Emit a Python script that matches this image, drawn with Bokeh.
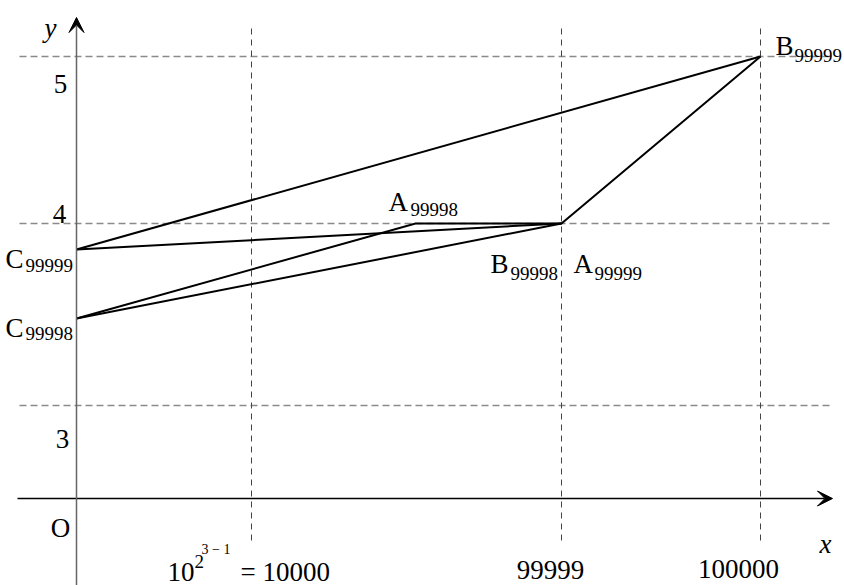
from bokeh.plotting import figure
from bokeh.models import Range1d, Arrow, VeeHead, ColumnDataSource
from bokeh.core.properties import value
from bokeh.embed import file_html
from bokeh.resources import INLINE

# ---- schematic diagram positions (diagram units, not to scale) ----
x_tick_pos = [1.75, 4.85, 6.84]          # 10^(2^(3-1)) = 10000, 99999, 100000
x_tick_labels = ["= 10000", "99999", "100000"]
y_tick_pos = [0.93, 2.75, 4.42]          # 3, 4, 5
y_tick_labels = ["3", "4", "5"]

# vertices of the construction
A99998 = (3.39, 2.75)
A99999 = (4.85, 2.75)
B99998 = (4.85, 2.75)
B99999 = (6.84, 4.42)
C99998 = (0.0, 1.80)
C99999 = (0.0, 2.49)

x_axis_span = (-0.59, 7.56)
y_axis_span = (-0.87, 4.81)
h_grid_span = (-0.57, 7.56)
v_grid_span = (-0.42, 4.73)

FONT = "Liberation Serif"
BIG = "27px"
SUB = "19px"

p = figure(width=844, height=585, x_range=Range1d(-0.76, 7.68), y_range=Range1d(-0.87, 4.98),
           output_backend="svg", toolbar_location=None, min_border=0,
           x_axis_type=None, y_axis_type=None)
p.outline_line_color = None
p.background_fill_color = "white"
p.grid.visible = False

# dashed guide lines
p.multi_line(xs=[[h_grid_span[0], h_grid_span[1]] for _ in y_tick_pos],
             ys=[[y, y] for y in y_tick_pos],
             line_color="#8a8a8a", line_width=1.5, line_dash="7 4")
p.multi_line(xs=[[x, x] for x in x_tick_pos],
             ys=[[v_grid_span[0], v_grid_span[1]] for _ in x_tick_pos],
             line_color="#444444", line_width=1, line_dash="6 5")

# axes
p.add_layout(Arrow(end=VeeHead(size=15, fill_color="black", line_color="black", line_width=1),
                   x_start=x_axis_span[0], y_start=0, x_end=x_axis_span[1], y_end=0,
                   line_color="black", line_width=1.5))
p.add_layout(Arrow(end=VeeHead(size=15, fill_color="black", line_color="black", line_width=1),
                   x_start=0, y_start=y_axis_span[0], x_end=0, y_end=y_axis_span[1],
                   line_color="#666666", line_width=1.5))

# construction segments
paths = [
    [C99999, B99999],
    [C99999, A99999],
    [C99998, A99998, A99999, B99999],
    [C99998, B99998],
]
p.multi_line(xs=[[pt[0] for pt in path] for path in paths],
             ys=[[pt[1] for pt in path] for path in paths],
             line_color="black", line_width=2, line_join="miter")

# ---- labels ----
rows = []  # (x, y, text, dx, dy, size, style, align)
ydx = {"3": -14, "4": -17, "5": -16}
ydy = {"3": 33, "4": -10, "5": 27}
for yv, lab in zip(y_tick_pos, y_tick_labels):
    rows.append((0, yv, lab, ydx[lab], ydy[lab], BIG, "normal", "center"))
rows.append((0, 0, "O", -16, 29, BIG, "normal", "center"))
rows.append((0, y_axis_span[1], "y", -26, 10, BIG, "italic", "center"))
rows.append((x_axis_span[1], 0, "x", -7, 45, BIG, "italic", "center"))

# x tick labels
rows.append((x_tick_pos[0], 0, "10", -84, 73, BIG, "normal", "left"))
rows.append((x_tick_pos[0], 0, "2", -57, 63, SUB, "normal", "left"))
rows.append((x_tick_pos[0], 0, "3 − 1", -50, 51, "14px", "normal", "left"))
rows.append((x_tick_pos[0], 0, x_tick_labels[0], -11, 73, BIG, "normal", "left"))
rows.append((x_tick_pos[1], 0, x_tick_labels[1], -11, 71, BIG, "normal", "center"))
rows.append((x_tick_pos[2], 0, x_tick_labels[2], -22, 70, BIG, "normal", "center"))

# point labels: (point, letter, sub, dx_main, dy_main, dx_sub, dy_sub)
point_labels = [
    (B99999, "B", "99999", 15, -11, 34, -1),
    (A99998, "A", "99998", -27, -22, -5, -14),
    (B99998, "B", "99998", -71, 40, -51, 50),
    (A99999, "A", "99999", 12, 40, 33, 50),
    (C99999, "C", "99999", -71, 9, -51, 16),
    (C99998, "C", "99998", -71, 9, -51, 15),
]
for pt, letter, sub, dxm, dym, dxs, dys in point_labels:
    rows.append((pt[0], pt[1], letter, dxm, dym, BIG, "normal", "left"))
    rows.append((pt[0], pt[1], sub, dxs, dys, SUB, "normal", "left"))

src = ColumnDataSource(dict(
    x=[r[0] for r in rows], y=[r[1] for r in rows], text=[r[2] for r in rows],
    dx=[r[3] for r in rows], dy=[r[4] for r in rows], size=[r[5] for r in rows],
    style=[r[6] for r in rows], align=[r[7] for r in rows],
))
p.text(x="x", y="y", text="text", x_offset="dx", y_offset="dy", source=src,
       text_font=value(FONT), text_font_size="size", text_font_style="style",
       text_align="align", text_baseline="alphabetic", text_color="black")

open("out.html", "w").write(file_html(p, INLINE))
